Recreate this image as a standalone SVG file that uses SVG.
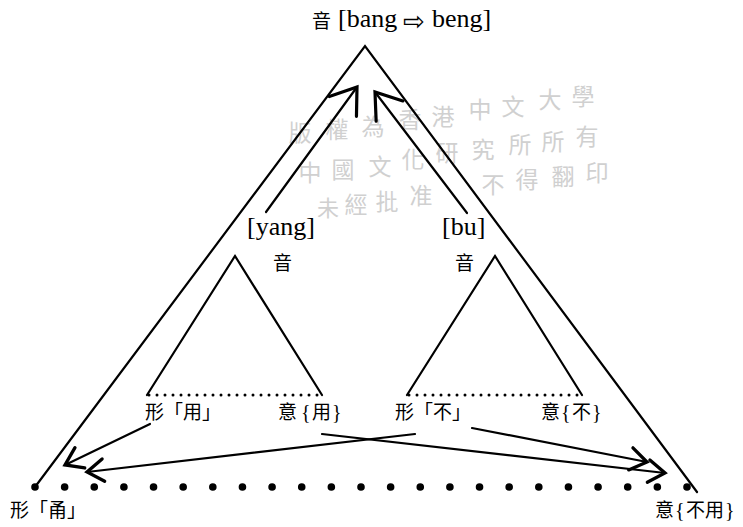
<svg xmlns="http://www.w3.org/2000/svg" width="743" height="527" viewBox="0 0 743 527">
<style>
.ln{fill:none;stroke:#000;stroke-width:2.2;stroke-linecap:round;stroke-linejoin:miter}
.ar{fill:none;stroke:#000;stroke-width:2.2;stroke-linecap:round}
.dots{fill:none;stroke:#000;stroke-width:7.6;stroke-linecap:round;stroke-dasharray:0 29.636}
.sdots{fill:none;stroke:#000;stroke-width:3;stroke-linecap:round;stroke-dasharray:0 8}
.lat{font-family:"Liberation Serif","DejaVu Serif",serif;font-size:26px;fill:#000}
.br{font-family:"Liberation Serif","DejaVu Serif",serif;font-size:20px;fill:#000}
.cjk{font-family:"Noto Sans CJK TC","Noto Sans CJK SC",sans-serif;font-size:19px;fill:#000}
.sym{font-family:"DejaVu Sans",sans-serif;font-size:26px;fill:#000}
.wm{font-family:"Noto Sans CJK TC","Noto Sans CJK SC",sans-serif;font-size:23px;fill:#d0d0d0;text-anchor:middle}
</style>
<defs>
<marker id="big" markerUnits="userSpaceOnUse" markerWidth="40" markerHeight="40" viewBox="-22 -15 26 30" refX="0" refY="0" orient="auto">
<path d="M-18,-12.6 L0,0 L-18,12.6" fill="none" stroke="#000" stroke-width="2.4" stroke-linecap="round"/>
</marker>
<marker id="small" markerUnits="userSpaceOnUse" markerWidth="30" markerHeight="30" viewBox="-14 -10 18 20" refX="0" refY="0" orient="auto">
<path d="M-11,-7.5 L0,0 L-11,7.5" fill="none" stroke="#000" stroke-width="2.2" stroke-linecap="round"/>
</marker>
</defs>

<g id="watermark">
<text class="wm" x="300" y="141">版</text>
<text class="wm" x="337" y="138">權</text>
<text class="wm" x="373" y="135">為</text>
<text class="wm" x="410" y="128">香</text>
<text class="wm" x="443" y="125">港</text>
<text class="wm" x="480" y="118">中</text>
<text class="wm" x="513" y="115">文</text>
<text class="wm" x="550" y="108">大</text>
<text class="wm" x="583" y="105">學</text>
<text class="wm" x="310" y="181">中</text>
<text class="wm" x="343" y="178">國</text>
<text class="wm" x="380" y="175">文</text>
<text class="wm" x="413" y="168">化</text>
<text class="wm" x="447" y="161">研</text>
<text class="wm" x="483" y="158">究</text>
<text class="wm" x="520" y="153">所</text>
<text class="wm" x="553" y="150">所</text>
<text class="wm" x="587" y="145">有</text>
<text class="wm" x="328" y="216" style="font-size:22px">未</text>
<text class="wm" x="356" y="213">經</text>
<text class="wm" x="387" y="210">批</text>
<text class="wm" x="421" y="204">准</text>
<text class="wm" x="493" y="193">不</text>
<text class="wm" x="527" y="188">得</text>
<text class="wm" x="563" y="185">翻</text>
<text class="wm" x="597" y="181">印</text>
</g>

<g id="outer-triangle">
<path class="ln" d="M35,487 L365,46 L697,492"/>
<line class="dots" x1="35" y1="487" x2="687.1" y2="487"/>
</g>

<g id="top-label">
<text class="cjk" x="312" y="28">音</text>
<text class="lat" x="338" y="27">[bang</text>
<text class="sym" x="403" y="30">⇨</text>
<text class="lat" x="432" y="27">beng]</text>
</g>

<g id="left-triangle">
<path class="ln" d="M147,395 L235,256 L322,395"/>
<line class="sdots" x1="149" y1="395" x2="321" y2="395"/>
<text class="lat" x="247" y="235">[yang]</text>
<text class="cjk" x="273" y="270">音</text>
</g>

<g id="right-triangle">
<path class="ln" d="M407,395 L495,256 L582,395"/>
<line class="sdots" x1="409" y1="395" x2="581" y2="395"/>
<text class="lat" x="442" y="235">[bu]</text>
<text class="cjk" x="455" y="270">音</text>
</g>

<g id="labels">
<text class="cjk" x="145" y="419">形「用」</text>
<text class="cjk" x="278" y="419">意</text>
<text class="br" x="301" y="419">{</text>
<text class="cjk" x="312" y="419">用</text>
<text class="br" x="332" y="419">}</text>
<text class="cjk" x="395" y="419">形「不」</text>
<text class="cjk" x="541" y="419">意</text>
<text class="br" x="561" y="419">{</text>
<text class="cjk" x="572" y="419">不</text>
<text class="br" x="592" y="419">}</text>
<text class="cjk" x="10" y="517">形「甬」</text>
<text class="cjk" x="655" y="517">意</text>
<text class="br" x="675" y="517">{</text>
<text class="cjk" x="686" y="517">不用</text>
<text class="br" x="725" y="517">}</text>
</g>

<g id="connectors">
<line class="ar" x1="266" y1="212" x2="357" y2="87" marker-end="url(#big)"/>
<line class="ar" x1="467" y1="213" x2="375" y2="92" marker-end="url(#big)"/>
<line class="ar" x1="150" y1="424" x2="65" y2="465" marker-end="url(#small)"/>
<line class="ar" x1="415" y1="434" x2="87" y2="472" marker-end="url(#small)"/>
<line class="ar" x1="322" y1="434" x2="665" y2="473" marker-end="url(#small)"/>
<line class="ar" x1="472" y1="428" x2="647" y2="462" marker-end="url(#small)"/>
</g>
</svg>
